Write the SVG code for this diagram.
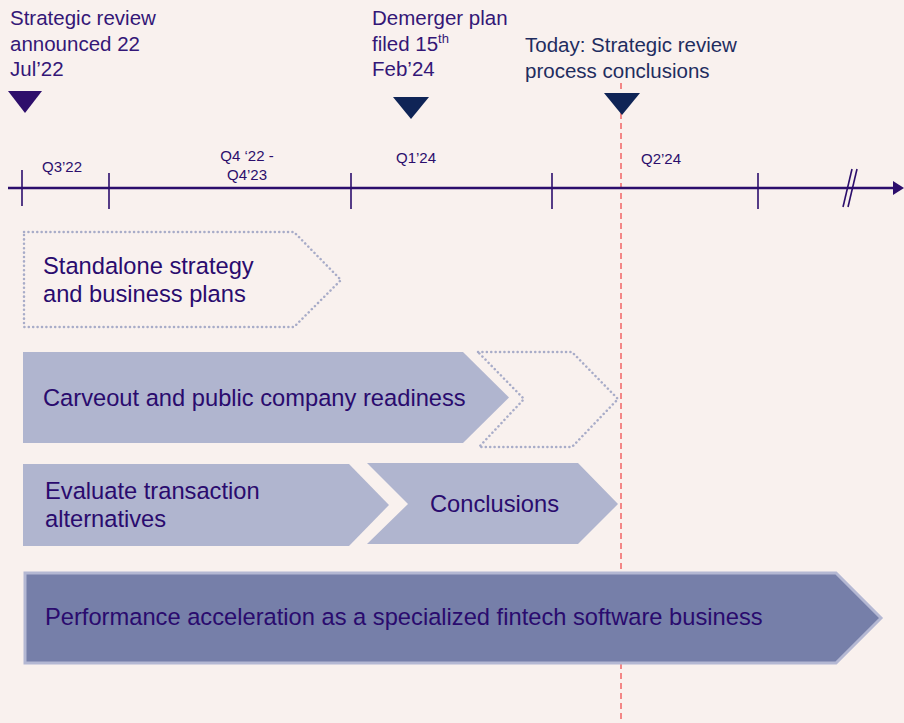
<svg xmlns="http://www.w3.org/2000/svg" width="904" height="723" viewBox="0 0 904 723">
  <style>
    text { font-family: "Liberation Sans", Arial, sans-serif; }
    .head { font-size: 20.5px; fill: #341777; }
    .head-navy { font-size: 20.5px; fill: #1f2d5f; }
    .axis-label { font-size: 15px; fill: #2c0e6c; }
    .box-label { font-size: 23.7px; fill: #2a0b6e; }
    .axis { stroke: #2c0e6c; stroke-width: 2.5; fill: none; }
    .tick { stroke: #2c0e6c; stroke-width: 1.6; fill: none; }
    .phase { fill: #b0b5cf; }
    .phase-open { fill: none; stroke: #a8acc8; stroke-width: 2.5; stroke-dasharray: 0.1 4.3; stroke-linecap: round; }
    .phase-main { fill: #767fa9; stroke: #b4b8d3; stroke-width: 3; }
    .today { stroke: #f26d6d; stroke-width: 1.6; stroke-dasharray: 6 4; }
  </style>
  <defs>
    <marker id="axis-head" markerWidth="12" markerHeight="14" refX="1" refY="7" orient="auto" markerUnits="userSpaceOnUse">
      <path d="M1,0 L12,7 L1,14 Z" fill="#2c0e6c"/>
    </marker>
  </defs>

  <rect width="904" height="723" fill="#f9f1ee"/>

  <!-- milestone captions -->
  <g id="milestone-review">
    <text class="head" x="10" y="25">Strategic review</text>
    <text class="head" x="10" y="50.5">announced 22</text>
    <text class="head" x="10" y="76">Jul’22</text>
    <path d="M8,91 L42,91 L25,113 Z" fill="#2e0e6b"/>
  </g>
  <g id="milestone-demerger">
    <text class="head" x="372" y="25">Demerger plan</text>
    <text class="head" x="372" y="50.5">filed 15<tspan font-size="13" dy="-8">th</tspan></text>
    <text class="head" x="372" y="76">Feb’24</text>
    <path d="M393,97 L429,97 L411,119 Z" fill="#0f2456"/>
  </g>
  <g id="milestone-today">
    <text class="head-navy" x="525" y="52">Today: Strategic review</text>
    <text class="head-navy" x="525" y="77.5">process conclusions</text>
    <line class="today" x1="621" y1="83" x2="621" y2="723"/>
    <path d="M604,93 L640,93 L622,115 Z" fill="#0f2456"/>
  </g>

  <!-- time axis -->
  <g id="connectors">
    <line class="axis" x1="8" y1="188" x2="893" y2="188" marker-end="url(#axis-head)"/>
    <line class="tick" x1="22" y1="170" x2="22" y2="206"/>
    <line class="tick" x1="109" y1="173" x2="109" y2="209"/>
    <line class="tick" x1="351" y1="173" x2="351" y2="209"/>
    <line class="tick" x1="552" y1="173" x2="552" y2="209"/>
    <line class="tick" x1="758" y1="173" x2="758" y2="209"/>
    <line class="tick" x1="843" y1="207" x2="852" y2="169"/>
    <line class="tick" x1="848" y1="207" x2="857" y2="169"/>
  </g>
  <g id="axis-labels">
    <text class="axis-label" x="62" y="172" text-anchor="middle">Q3’22</text>
    <text class="axis-label" x="247" y="161" text-anchor="middle">Q4 ‘22 -</text>
    <text class="axis-label" x="247" y="180" text-anchor="middle">Q4’23</text>
    <text class="axis-label" x="416" y="163" text-anchor="middle">Q1’24</text>
    <text class="axis-label" x="661" y="164" text-anchor="middle">Q2’24</text>
  </g>

  <!-- workstreams -->
  <g id="standalone-strategy">
    <path class="phase-open" d="M24,232 L294,232 L341,280 L294,327 L24,327 Z"/>
    <text class="box-label" x="43" y="274">Standalone strategy</text>
    <text class="box-label" x="43" y="302">and business plans</text>
  </g>
  <g id="carveout-readiness">
    <path class="phase" d="M23,352 L463,352 L509,397.5 L463,443 L23,443 Z"/>
    <text class="box-label" x="43" y="406">Carveout and public company readiness</text>
  </g>
  <g id="carveout-extension">
    <path class="phase-open" d="M478,352 L572,352 L618,399 L572,447 L479,447 L524,399 Z"/>
  </g>
  <g id="evaluate-alternatives">
    <path class="phase" d="M23,464 L349,464 L389,505 L349,546 L23,546 Z"/>
    <text class="box-label" x="45" y="499">Evaluate transaction</text>
    <text class="box-label" x="45" y="527">alternatives</text>
  </g>
  <g id="conclusions">
    <path class="phase" d="M367,463 L578,463 L618,504 L578,544 L367,544 L408,504 Z"/>
    <text class="box-label" x="430" y="512">Conclusions</text>
  </g>
  <g id="performance-acceleration">
    <path class="phase-main" d="M25,573 L836,573 L881,618 L836,663 L25,663 Z"/>
    <text class="box-label" x="45" y="625">Performance acceleration as a specialized fintech software business</text>
  </g>
</svg>
